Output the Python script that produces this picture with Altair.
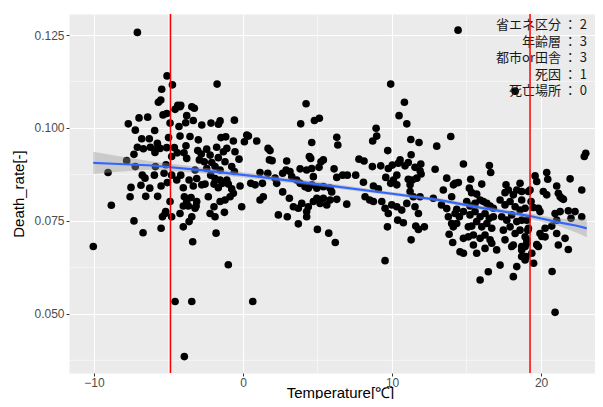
import altair as alt
import pandas as pd

# (Temperature, Death_rate), grouped by temperature band
winter = [
    (-10.05, 0.0681), (-9.06, 0.0880), (-8.84, 0.0792), (-7.81, 0.0912), (-7.70, 0.1011),
    (-7.58, 0.0815), (-7.52, 0.0840), (-7.32, 0.0750), (-7.32, 0.0929), (-7.23, 0.0994),
    (-7.23, 0.0896), (-7.09, 0.0948), (-7.09, 0.1257), (-6.98, 0.1027), (-6.85, 0.0846),
    (-6.80, 0.0971), (-6.76, 0.0873), (-6.71, 0.0718), (-6.69, 0.0944), (-6.58, 0.0865),
    (-6.53, 0.0816), (-6.40, 0.1029), (-6.29, 0.0971), (-6.26, 0.0838), (-6.22, 0.0948),
    (-5.93, 0.0993), (-5.91, 0.0941), (-5.88, 0.0896), (-5.75, 0.0959), (-5.73, 0.0816),
    (-5.68, 0.1069), (-5.57, 0.0945), (-5.52, 0.1075), (-5.50, 0.0844), (-5.50, 0.0730),
    (-5.46, 0.1104), (-5.41, 0.0761), (-5.37, 0.1035), (-5.30, 0.0878), (-5.19, 0.0775),
    (-5.12, 0.1039), (-5.12, 0.0947), (-5.10, 0.1140), (-5.91, 0.0934), (-5.17, 0.0901),
    (-5.95, 0.0873), (-5.08, 0.0853), (-5.00, 0.0974), (-5.23, 0.0770), (-4.90, 0.1013),
    (-4.90, 0.0802), (-4.79, 0.0873), (-4.79, 0.0923), (-4.79, 0.0761), (-4.74, 0.1116),
]
early_spring = [
    (-4.61, 0.0947), (-4.56, 0.1050), (-4.45, 0.0860), (-4.41, 0.0933), (-4.38, 0.1061),
    (-4.30, 0.1004), (-4.23, 0.1057), (-4.23, 0.0978), (-4.23, 0.0770), (-4.18, 0.1061),
    (-4.18, 0.0873), (-4.01, 0.0839), (-4.01, 0.0790), (-4.01, 0.0734), (-3.96, 0.0933),
    (-3.94, 0.0815), (-3.94, 0.0385), (-3.85, 0.1014), (-3.83, 0.0952), (-3.78, 0.1033),
    (-3.78, 0.0918), (-3.78, 0.0802), (-3.67, 0.0790), (-3.62, 0.0860), (-3.62, 0.0748),
    (-3.56, 0.0977), (-3.49, 0.0813), (-3.44, 0.1057), (-3.44, 0.0761), (-3.44, 0.0533),
    (-3.38, 0.0694), (-3.34, 0.1020), (-3.34, 0.0844), (-3.27, 0.1053), (-3.22, 0.0887),
    (-3.22, 0.0784), (-3.15, 0.0790), (-3.11, 0.0864), (-3.11, 0.0802), (-3.04, 0.0939),
    (-3.00, 0.0968), (-2.93, 0.0914), (-2.80, 0.0930), (-2.77, 0.1008), (-2.77, 0.0847),
    (-2.60, 0.0909), (-2.55, 0.0849), (-2.44, 0.0943), (-2.44, 0.0891), (-2.33, 0.0815),
    (-2.21, 0.0927), (-2.21, 0.0770), (-2.17, 0.0873), (-2.15, 0.1013), (-2.10, 0.0907),
    (-1.95, 0.0849), (-1.95, 0.0788), (-1.88, 0.0896), (-1.88, 0.0864), (-1.88, 0.0761),
    (-1.81, 0.0717), (-1.77, 0.0948), (-1.74, 0.1118), (-1.66, 0.0920), (-1.66, 0.0839),
    (-1.65, 0.1010), (-1.54, 0.1019), (-1.54, 0.0887), (-1.54, 0.0860), (-1.54, 0.0802),
    (-1.48, 0.0974), (-1.39, 0.0851), (-1.32, 0.0936), (-1.25, 0.0773), (-1.21, 0.0909),
    (-1.21, 0.0806), (-1.16, 0.0976), (-1.09, 0.0945), (-1.09, 0.0860), (-0.99, 0.0849),
    (-0.99, 0.0632), (-0.87, 0.0815), (-0.76, 0.0896), (-0.76, 0.0836), (-0.65, 0.0965),
    (-0.65, 0.0824), (-0.58, 0.1021), (-0.58, 0.0883), (-0.54, 0.0936), (-0.27, 0.0916),
    (-0.20, 0.0844), (-0.09, 0.0788), (-4.56, 0.0533),
]
spring = [
    (0.09, 0.0963), (0.25, 0.0981), (0.36, 0.0978), (0.52, 0.0851), (0.81, 0.0847),
    (0.92, 0.0965), (0.65, 0.0533), (1.14, 0.0806), (1.14, 0.0880), (1.30, 0.0851),
    (1.36, 0.0815), (1.66, 0.0878), (1.68, 0.0945), (1.77, 0.0914), (1.81, 0.0939),
    (1.95, 0.0912), (2.15, 0.0865), (2.26, 0.0851), (2.37, 0.0766), (2.66, 0.0878),
    (2.66, 0.0828), (2.89, 0.0887), (2.93, 0.0911), (2.97, 0.0761), (3.11, 0.0811),
    (3.15, 0.0883), (3.27, 0.0869), (3.38, 0.0788), (3.60, 0.0860), (3.71, 0.0784),
    (3.71, 0.0742), (3.83, 0.0890), (3.83, 0.0851), (3.87, 0.1011), (3.94, 0.0797),
    (4.16, 0.0842), (4.23, 0.1065), (4.27, 0.0887), (4.27, 0.0775), (4.27, 0.0761),
    (4.38, 0.0838), (4.38, 0.0788), (4.45, 0.0923), (4.54, 0.0918), (4.61, 0.0961),
    (4.61, 0.0891), (4.61, 0.0847), (4.72, 0.0802), (4.72, 0.0869), (4.79, 0.1020),
    (4.95, 0.0838), (4.95, 0.0811), (4.99, 0.0727),
]
summer = [
    (5.10, 0.0894), (5.12, 0.1026), (5.17, 0.0797), (5.23, 0.0909), (5.39, 0.0914),
    (5.39, 0.0842), (5.39, 0.0811), (5.62, 0.0793), (5.75, 0.0717), (5.84, 0.0838),
    (5.84, 0.0806), (5.95, 0.0828), (6.11, 0.0890), (6.19, 0.0692), (6.29, 0.0975),
    (6.29, 0.0867), (6.29, 0.0808), (6.36, 0.0954), (6.69, 0.0873), (6.96, 0.0795),
    (7.00, 0.0873), (7.56, 0.0873), (7.78, 0.0916), (8.08, 0.0854), (8.12, 0.0911),
    (8.19, 0.0815), (8.50, 0.0806), (8.68, 0.0896), (8.70, 0.0965), (8.75, 0.0844),
    (8.75, 0.0802), (8.93, 0.0999), (8.97, 0.0978), (9.08, 0.0836), (9.24, 0.0898),
    (9.31, 0.0802), (9.53, 0.0784), (9.53, 0.0643), (9.58, 0.0867), (9.69, 0.0734),
    (9.71, 0.0939), (9.75, 0.0891), (9.75, 0.0770), (9.91, 0.1118), (9.91, 0.0851),
    (9.98, 0.0793),
]
autumn = [
    (10.02, 0.0900), (10.09, 0.0860), (10.32, 0.0873), (10.32, 0.0847), (10.32, 0.0788),
    (10.38, 0.0752), (10.42, 0.0905), (10.47, 0.1033), (10.54, 0.0914), (10.65, 0.0779),
    (10.76, 0.0745), (10.83, 0.1069), (10.87, 0.0898), (10.99, 0.1011), (10.99, 0.0797),
    (11.09, 0.0907), (11.09, 0.0862), (11.21, 0.0847), (11.21, 0.0829), (11.26, 0.0969),
    (11.28, 0.0928), (11.28, 0.0699), (11.36, 0.0860), (11.43, 0.0815), (11.54, 0.0894),
    (11.54, 0.0788), (11.59, 0.0736), (11.66, 0.0865), (11.77, 0.0770), (11.77, 0.0727),
    (11.81, 0.0961), (11.88, 0.0885), (11.88, 0.0815), (11.93, 0.0903), (11.95, 0.0876),
    (12.17, 0.0734), (12.77, 0.0811), (12.89, 0.0889), (13.00, 0.0951), (13.32, 0.0793),
    (13.44, 0.0833), (13.67, 0.0865), (13.67, 0.0783), (13.78, 0.0761), (13.83, 0.0714),
    (13.94, 0.0977), (14.00, 0.0815), (14.00, 0.0743), (14.07, 0.0692), (14.12, 0.0847),
]
late_summer = [
    (14.23, 0.0851), (14.45, 0.0853), (14.34, 0.0781), (14.52, 0.0761), (14.34, 0.0743),
    (14.11, 0.0734), (14.56, 0.0667), (14.79, 0.0663), (14.43, 0.1263), (14.79, 0.0903),
    (14.23, 0.0770), (14.79, 0.0775), (14.79, 0.0703), (15.12, 0.0734), (15.68, 0.0663),
    (16.24, 0.0676), (16.69, 0.0690), (17.02, 0.0672), (17.25, 0.0631), (16.46, 0.0613),
    (15.91, 0.0591), (18.14, 0.0600), (18.70, 0.0654), (18.99, 0.0654), (18.37, 0.0627),
    (18.93, 0.0645), (16.53, 0.0899), (16.62, 0.0880), (15.28, 0.0862), (16.02, 0.0849),
    (15.19, 0.0838), (15.34, 0.0826), (15.68, 0.0822), (17.65, 0.0847), (17.81, 0.0833),
    (17.58, 0.0826), (18.14, 0.0820), (18.37, 0.0833), (18.59, 0.0851), (18.70, 0.0829),
    (18.26, 0.1099), (18.70, 0.0806), (15.01, 0.0802), (15.23, 0.0790), (15.57, 0.0797),
    (15.91, 0.0806), (16.13, 0.0802), (16.36, 0.0797), (16.58, 0.0790), (16.80, 0.0784),
    (15.23, 0.0766), (15.57, 0.0775), (15.91, 0.0761), (16.24, 0.0770), (16.53, 0.0757),
    (16.80, 0.0761), (15.35, 0.0736), (15.68, 0.0748), (16.02, 0.0734), (16.36, 0.0743),
    (16.69, 0.0730), (15.12, 0.0707), (15.46, 0.0712), (15.91, 0.0703), (16.24, 0.0712),
    (16.58, 0.0699), (15.46, 0.0685), (17.25, 0.0806), (17.58, 0.0793), (17.92, 0.0802),
    (18.26, 0.0788), (18.59, 0.0779), (18.93, 0.0784), (17.36, 0.0761), (17.70, 0.0752),
    (18.03, 0.0766), (18.37, 0.0748), (18.70, 0.0752), (17.47, 0.0725), (17.92, 0.0734),
    (18.26, 0.0716), (18.59, 0.0725), (18.93, 0.0707), (17.58, 0.0699), (18.14, 0.0685),
    (18.70, 0.0681), (19.04, 0.0690), (18.70, 0.0672), (18.03, 0.0681), (19.04, 0.0699),
]
late_year = [
    (19.15, 0.0829), (19.15, 0.0730), (19.50, 0.0636), (20.74, 0.0614), (20.94, 0.0504),
    (23.00, 0.0932), (22.90, 0.0923), (19.60, 0.0871), (19.71, 0.0856), (20.38, 0.0880),
    (20.45, 0.0862), (21.95, 0.0863), (22.73, 0.0833), (21.05, 0.0844), (20.15, 0.0829),
    (20.38, 0.0820), (21.28, 0.0815), (21.50, 0.0808), (19.26, 0.0833), (19.33, 0.0802),
    (19.48, 0.0786), (19.82, 0.0784), (19.93, 0.0775), (20.94, 0.0770), (21.28, 0.0775),
    (21.83, 0.0777), (22.28, 0.0775), (22.73, 0.0761), (22.01, 0.0757), (21.05, 0.0752),
    (20.72, 0.0736), (20.27, 0.0730), (19.93, 0.0716), (20.27, 0.0707), (21.05, 0.0716),
    (21.61, 0.0703), (21.16, 0.0685), (21.83, 0.0673), (19.82, 0.0681), (19.38, 0.0663),
    (19.04, 0.0752), (19.11, 0.0725), (18.93, 0.0681), (21.16, 0.0824), (21.39, 0.0811),
    (19.71, 0.0686), (20.05, 0.0708),
]

# smoothed trend and its confidence half-width
smooth_temp = [-10.05, -8.3, -6.1, -3.0, 0.0, 5.0, 10.0, 13.2, 16.0, 19.26, 21.2, 22.4, 23.07]
smooth_rate = [0.0906, 0.0903, 0.0899, 0.0887, 0.0874, 0.0849, 0.0823, 0.0806, 0.0785,
               0.0763, 0.0746, 0.0737, 0.0730]
smooth_half = [0.0030, 0.0021, 0.0011, 0.0008, 0.0007, 0.0006, 0.0005, 0.0005, 0.0006,
               0.0007, 0.0010, 0.0019, 0.0024]

x_ticks = [-10, 0, 10, 20]
x_minor = [-5, 5, 15]
y_ticks = [0.050, 0.075, 0.100, 0.125]
y_minor = [0.0375, 0.0625, 0.0875, 0.1125]
threshold_temps = [-4.87, 19.26]
note_lines = ["省エネ区分 ： 2", "年齢層 ： 3", "都市or田舎 ： 3", "死因 ： 1", "死亡場所 ： 0"]

pts = winter + early_spring + spring + summer + autumn + late_summer + late_year
df = pd.DataFrame({"Temperature": [p[0] for p in pts], "Death_rate": [p[1] for p in pts]})
fit = pd.DataFrame({
    "Temperature": smooth_temp,
    "Death_rate": smooth_rate,
    "lo": [r - h for r, h in zip(smooth_rate, smooth_half)],
    "hi": [r + h for r, h in zip(smooth_rate, smooth_half)],
})

xscale = alt.Scale(domain=[-11.68, 23.62], nice=False, zero=False)
yscale = alt.Scale(domain=[0.03408, 0.13065], nice=False, zero=False)

FONT = "Liberation Sans"
x_axis = alt.Axis(values=x_ticks, title="Temperature[℃]", grid=True, gridColor="white",
                  gridWidth=1.1, domain=False, tickColor="#333333", tickSize=3, tickWidth=1,
                  labelColor="#4D4D4D", labelFontSize=12, labelPadding=1, labelFont=FONT,
                  titleFont=FONT, titleFontSize=15, titleFontWeight="normal", titleColor="black",
                  titleX=271, titleY=24, titleBaseline="alphabetic")
y_axis = alt.Axis(values=y_ticks, format=".3f", title="Death_rate[-]", grid=True,
                  gridColor="white", gridWidth=1.1, domain=False, tickColor="#333333",
                  tickSize=3, tickWidth=1, labelColor="#4D4D4D", labelFontSize=12,
                  labelPadding=2, labelFont=FONT, titleFont=FONT, titleFontSize=15,
                  titleFontWeight="normal", titleColor="black", titleX=-51,
                  titleBaseline="middle")

minor_x = alt.Chart(pd.DataFrame({"Temperature": x_minor})).mark_rule(
    color="white", strokeWidth=0.5).encode(x=alt.X("Temperature:Q", scale=xscale, axis=x_axis))
minor_y = alt.Chart(pd.DataFrame({"Death_rate": y_minor})).mark_rule(
    color="white", strokeWidth=0.5).encode(y=alt.Y("Death_rate:Q", scale=yscale, axis=y_axis))

points = alt.Chart(df).mark_circle(size=58, color="black", opacity=1).encode(
    x=alt.X("Temperature:Q", scale=xscale, axis=x_axis),
    y=alt.Y("Death_rate:Q", scale=yscale, axis=y_axis),
)

band = alt.Chart(fit).mark_area(color="#999999", opacity=0.4).encode(
    x=alt.X("Temperature:Q", scale=xscale, axis=x_axis),
    y=alt.Y("lo:Q", scale=yscale, axis=y_axis),
    y2="hi:Q",
)
line = alt.Chart(fit).mark_line(color="#3366FF", strokeWidth=2.2).encode(
    x=alt.X("Temperature:Q", scale=xscale, axis=x_axis),
    y=alt.Y("Death_rate:Q", scale=yscale, axis=y_axis),
)

note = alt.Chart(pd.DataFrame({"t": ["\n".join(note_lines)]})).mark_text(
    align="right", baseline="top", font="Noto Sans CJK JP", fontSize=13,
    lineHeight=16.5, color="#1A1A1A", lineBreak="\n"
).encode(text="t:N", x=alt.value(518), y=alt.value(5))

red = alt.Chart(pd.DataFrame({"Temperature": threshold_temps})).mark_rule(
    color="#FF0000", strokeWidth=1.5).encode(x=alt.X("Temperature:Q", scale=xscale, axis=x_axis))

chart = alt.layer(minor_x, minor_y, points, band, line, note, red).properties(
    width=526, height=359,
    padding={"left": 61, "top": 6, "right": 0, "bottom": 26},
    autosize=alt.AutoSizeParams(type="none"),
    background="white",
).configure_view(fill="#EBEBEB", stroke="transparent")

chart.save("out.html", embed_options={"renderer": "svg", "actions": False})
